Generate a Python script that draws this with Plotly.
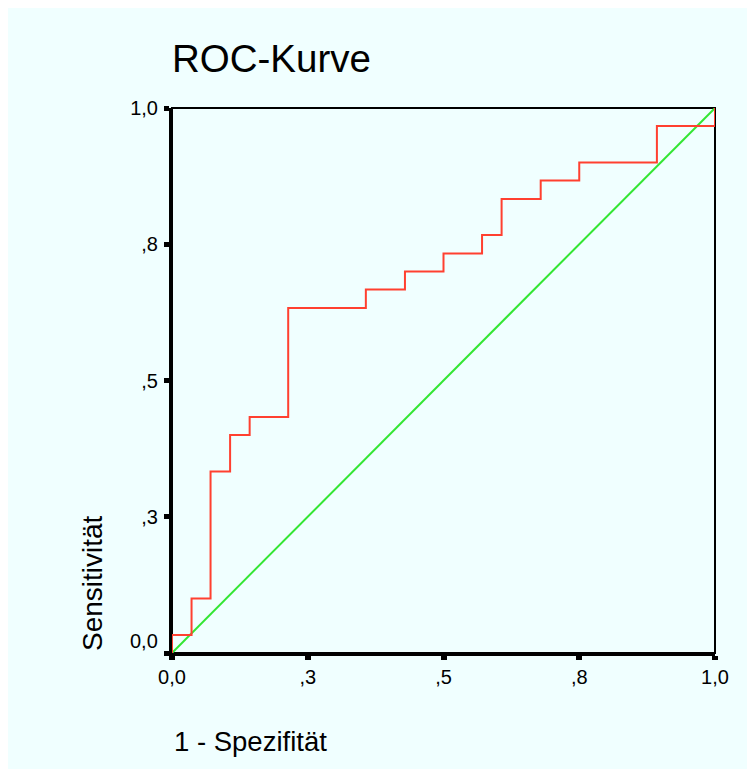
import plotly.graph_objects as go

# ROC curve points (1 - Spezifität, Sensitivität)
fpr = [0.0, 0.0, 0.036, 0.071, 0.107, 0.143, 0.214, 0.357, 0.429, 0.5,
       0.571, 0.607, 0.679, 0.75, 0.893, 1.0]
tpr = [0.0, 0.033, 0.1, 0.333, 0.4, 0.433, 0.633, 0.667, 0.7, 0.733,
       0.767, 0.833, 0.867, 0.9, 0.967, 1.0]

# reference diagonal
diag_x = [0.0, 1.0]
diag_y = [0.0, 1.0]

tick_vals = [0.0, 0.25, 0.5, 0.75, 1.0]
tick_text = ["0,0", ",3", ",5", ",8", "1,0"]

FONT = "Liberation Sans, Arial, Helvetica, sans-serif"
BG = "#F0FFFF"

fig = go.Figure()
fig.add_trace(go.Scatter(x=diag_x, y=diag_y, mode="lines",
                         line=dict(color="#33E633", width=2),
                         hoverinfo="skip", showlegend=False))
fig.add_trace(go.Scatter(x=fpr, y=tpr, mode="lines",
                         line=dict(color="#FF4030", width=2, shape="hv"),
                         showlegend=False, cliponaxis=False))

y_text = [""] + tick_text[1:]

fig.update_layout(
    width=747, height=761,
    margin=dict(l=164, r=40, t=100, b=116),
    paper_bgcolor=BG,
    plot_bgcolor=BG,
    font=dict(family=FONT, color="black", size=20),
    xaxis=dict(range=[0, 1], tickvals=tick_vals, ticktext=tick_text,
               showgrid=False, zeroline=False, showline=True,
               linecolor="black", linewidth=3, ticks="outside",
               ticklen=4, tickwidth=6, tickcolor="black",
               tickfont=dict(size=20, family=FONT)),
    yaxis=dict(range=[0, 1], tickvals=tick_vals, ticktext=y_text,
               showgrid=False, zeroline=False, showline=True,
               linecolor="black", linewidth=3, ticks="outside",
               ticklen=5, tickwidth=5, tickcolor="black",
               ticklabelstandoff=2,
               tickfont=dict(size=20, family=FONT)),
    shapes=[
        dict(type="rect", xref="paper", yref="paper",
             x0=0, x1=1, y0=0, y1=1,
             line=dict(color="black", width=2), layer="below"),
    ],
    annotations=[
        dict(text="ROC-Kurve", xref="paper", yref="paper", x=0.0, y=1.0,
             xanchor="left", yanchor="bottom", yshift=26, xshift=-2,
             showarrow=False, font=dict(size=38.5, family=FONT)),
        dict(text="1 - Spezifität", xref="paper", yref="paper", x=0.0, y=0.0,
             xanchor="left", yanchor="middle", yshift=-88,
             showarrow=False, font=dict(size=27.5, family=FONT)),
        dict(text="Sensitivität", xref="paper", yref="paper", x=0.0, y=0.0,
             xanchor="center", yanchor="bottom", xshift=-80, textangle=-90,
             showarrow=False, font=dict(size=28, family=FONT)),
        dict(text="0,0", xref="paper", yref="y", x=0.0, y=0.0,
             xanchor="right", yanchor="middle", xshift=-12, yshift=12,
             showarrow=False, font=dict(size=20, family=FONT)),
    ],
)

fig.write_html("out.html")
